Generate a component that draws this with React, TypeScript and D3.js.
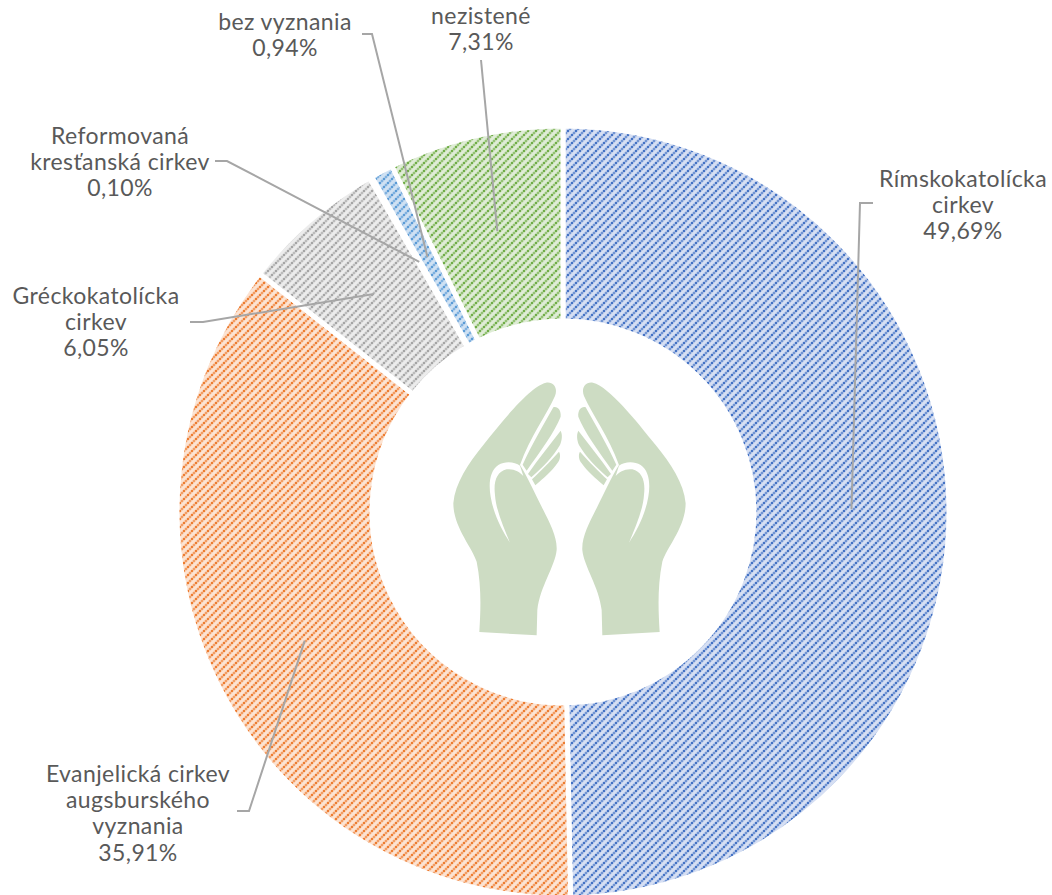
import React from "react";
import { arc, pie } from "d3";

const categories = [
  "Rímskokatolícka cirkev",
  "Evanjelická cirkev augsburského vyznania",
  "Gréckokatolícka cirkev",
  "Reformovaná kresťanská cirkev",
  "bez vyznania",
  "nezistené",
];
const shares = [49.69, 35.91, 6.05, 0.1, 0.94, 7.31];
const shareLabels = ["49,69%", "35,91%", "6,05%", "0,10%", "0,94%", "7,31%"];
const labelLines = [
  ["Rímskokatolícka", "cirkev"],
  ["Evanjelická cirkev", "augsburského", "vyznania"],
  ["Gréckokatolícka", "cirkev"],
  ["Reformovaná", "kresťanská cirkev"],
  ["bez vyznania"],
  ["nezistené"],
];
const colors = ["#4472c4", "#ed7d31", "#a5a5a5", "#ffc000", "#5b9bd5", "#70ad47"];
const tints = ["#d6dff3", "#fce3d2", "#ececec", "#fff0bf", "#cfe1f3", "#dfecd6"];

// label anchor (centre x, first baseline) and the leader's elbow points
const labelPos = [
  { x: 963, y: 187, leader: [[873, 203], [860, 203]] },
  { x: 138, y: 782, leader: [[237, 811], [249, 811]] },
  { x: 96, y: 304, leader: [[190, 322], [203, 322]] },
  { x: 120, y: 144, leader: [[215, 161], [227, 161]] },
  { x: 285, y: 30, leader: [[362, 34], [372, 34]] },
  { x: 481, y: 24, leader: [[481, 60]] },
];

const width = 1052;
const height = 895;
const cx = 563;
const cy = 512;
const outerRadius = 386;
const innerRadius = 191;
const lineStep = 26.2;
const tile = 8;
const dots = [0, 1, 2, 3];

const HAND = "#cddcc3";

const Hand = () => (
  <g>
    <path
      fill={HAND}
      d="M318 38 C342 34 354 55 345 78 C320 135 270 200 240 285 C262 320 285 370 305 410 C330 460 352 500 350 540 C345 590 300 650 292 720 L290 796 L118 786 C122 720 125 650 110 575 C95 530 40 470 40 400 C45 340 85 280 130 225 C190 150 270 50 318 38 Z"
    />
    <path
      fill="#fff"
      d="M240 287 C225 275 195 272 175 285 C150 302 145 340 152 380 C160 430 185 480 210 518 C190 470 168 420 165 375 C160 335 170 305 200 298 C220 295 240 305 250 318 Z"
    />
    <path fill={HAND} d="M248 284 C275 225 310 165 340 112 C352 108 364 120 362 140 C345 185 300 245 260 302 Z" />
    <path fill={HAND} d="M264 312 C295 265 330 225 362 182 C368 195 366 210 360 225 C340 260 305 295 274 322 Z" />
    <path fill={HAND} d="M276 328 C300 305 330 275 357 245 C363 255 360 270 352 280 C335 305 310 325 286 346 Z" />
  </g>
);

const App = () => {
  const slices = pie<number>().sort(null)(shares);
  const ringArc = arc<any>().innerRadius(innerRadius).outerRadius(outerRadius);

  return (
    <svg
      width={width}
      height={height}
      viewBox={`0 0 ${width} ${height}`}
      style={{ position: "absolute", left: 0, top: 0, background: "#fff" }}
      fontFamily="'Lato', sans-serif"
    >
      <defs>
        {colors.map((c, i) => (
          <pattern key={c} id={`hatch-${i}`} width={tile} height={tile} patternUnits="userSpaceOnUse">
            <rect width={tile} height={tile} fill={tints[i]} />
            <path
              d={`M-1 ${tile + 1} L${tile + 1} -1 M-1 1 L1 -1 M${tile - 1} ${tile + 1} L${tile + 1} ${tile - 1}`}
              stroke={c}
              strokeWidth={3}
              opacity={0.3}
            />
            {dots.map((d) => (
              <rect
                key={d}
                x={d * 2}
                y={tile - 2 - d * 2}
                width={2}
                height={2}
                fill={c}
                opacity={d % 2 ? 0.55 : 1}
              />
            ))}
          </pattern>
        ))}
      </defs>

      <g transform={`translate(${cx},${cy})`}>
        {slices.map((s, i) => (
          <path
            key={categories[i]}
            d={ringArc(s) as string}
            fill={`url(#hatch-${i})`}
            stroke="#fff"
            strokeWidth={5}
          />
        ))}
      </g>

      <g transform="translate(440,370) scale(0.3333)">
        <Hand />
        <g transform="translate(777,0) scale(-1,1)">
          <Hand />
        </g>
      </g>

      {slices.map((s, i) => {
        const [mx, my] = ringArc.centroid(s);
        const pts = [...labelPos[i].leader, [mx + cx, my + cy]];
        return (
          <polyline
            key={categories[i]}
            points={pts.map((p) => p.join(",")).join(" ")}
            fill="none"
            stroke="#a6a6a6"
            strokeWidth={2}
          />
        );
      })}

      {categories.map((name, i) => (
        <text
          key={name}
          textAnchor="middle"
          x={labelPos[i].x}
          y={labelPos[i].y}
          fontSize={23}
          letterSpacing={0.4}
          fill="#595959"
        >
          {[...labelLines[i], shareLabels[i]].map((line, j) => (
            <tspan key={j} x={labelPos[i].x} dy={j === 0 ? 0 : lineStep}>
              {line}
            </tspan>
          ))}
        </text>
      ))}
    </svg>
  );
};

export default App;
